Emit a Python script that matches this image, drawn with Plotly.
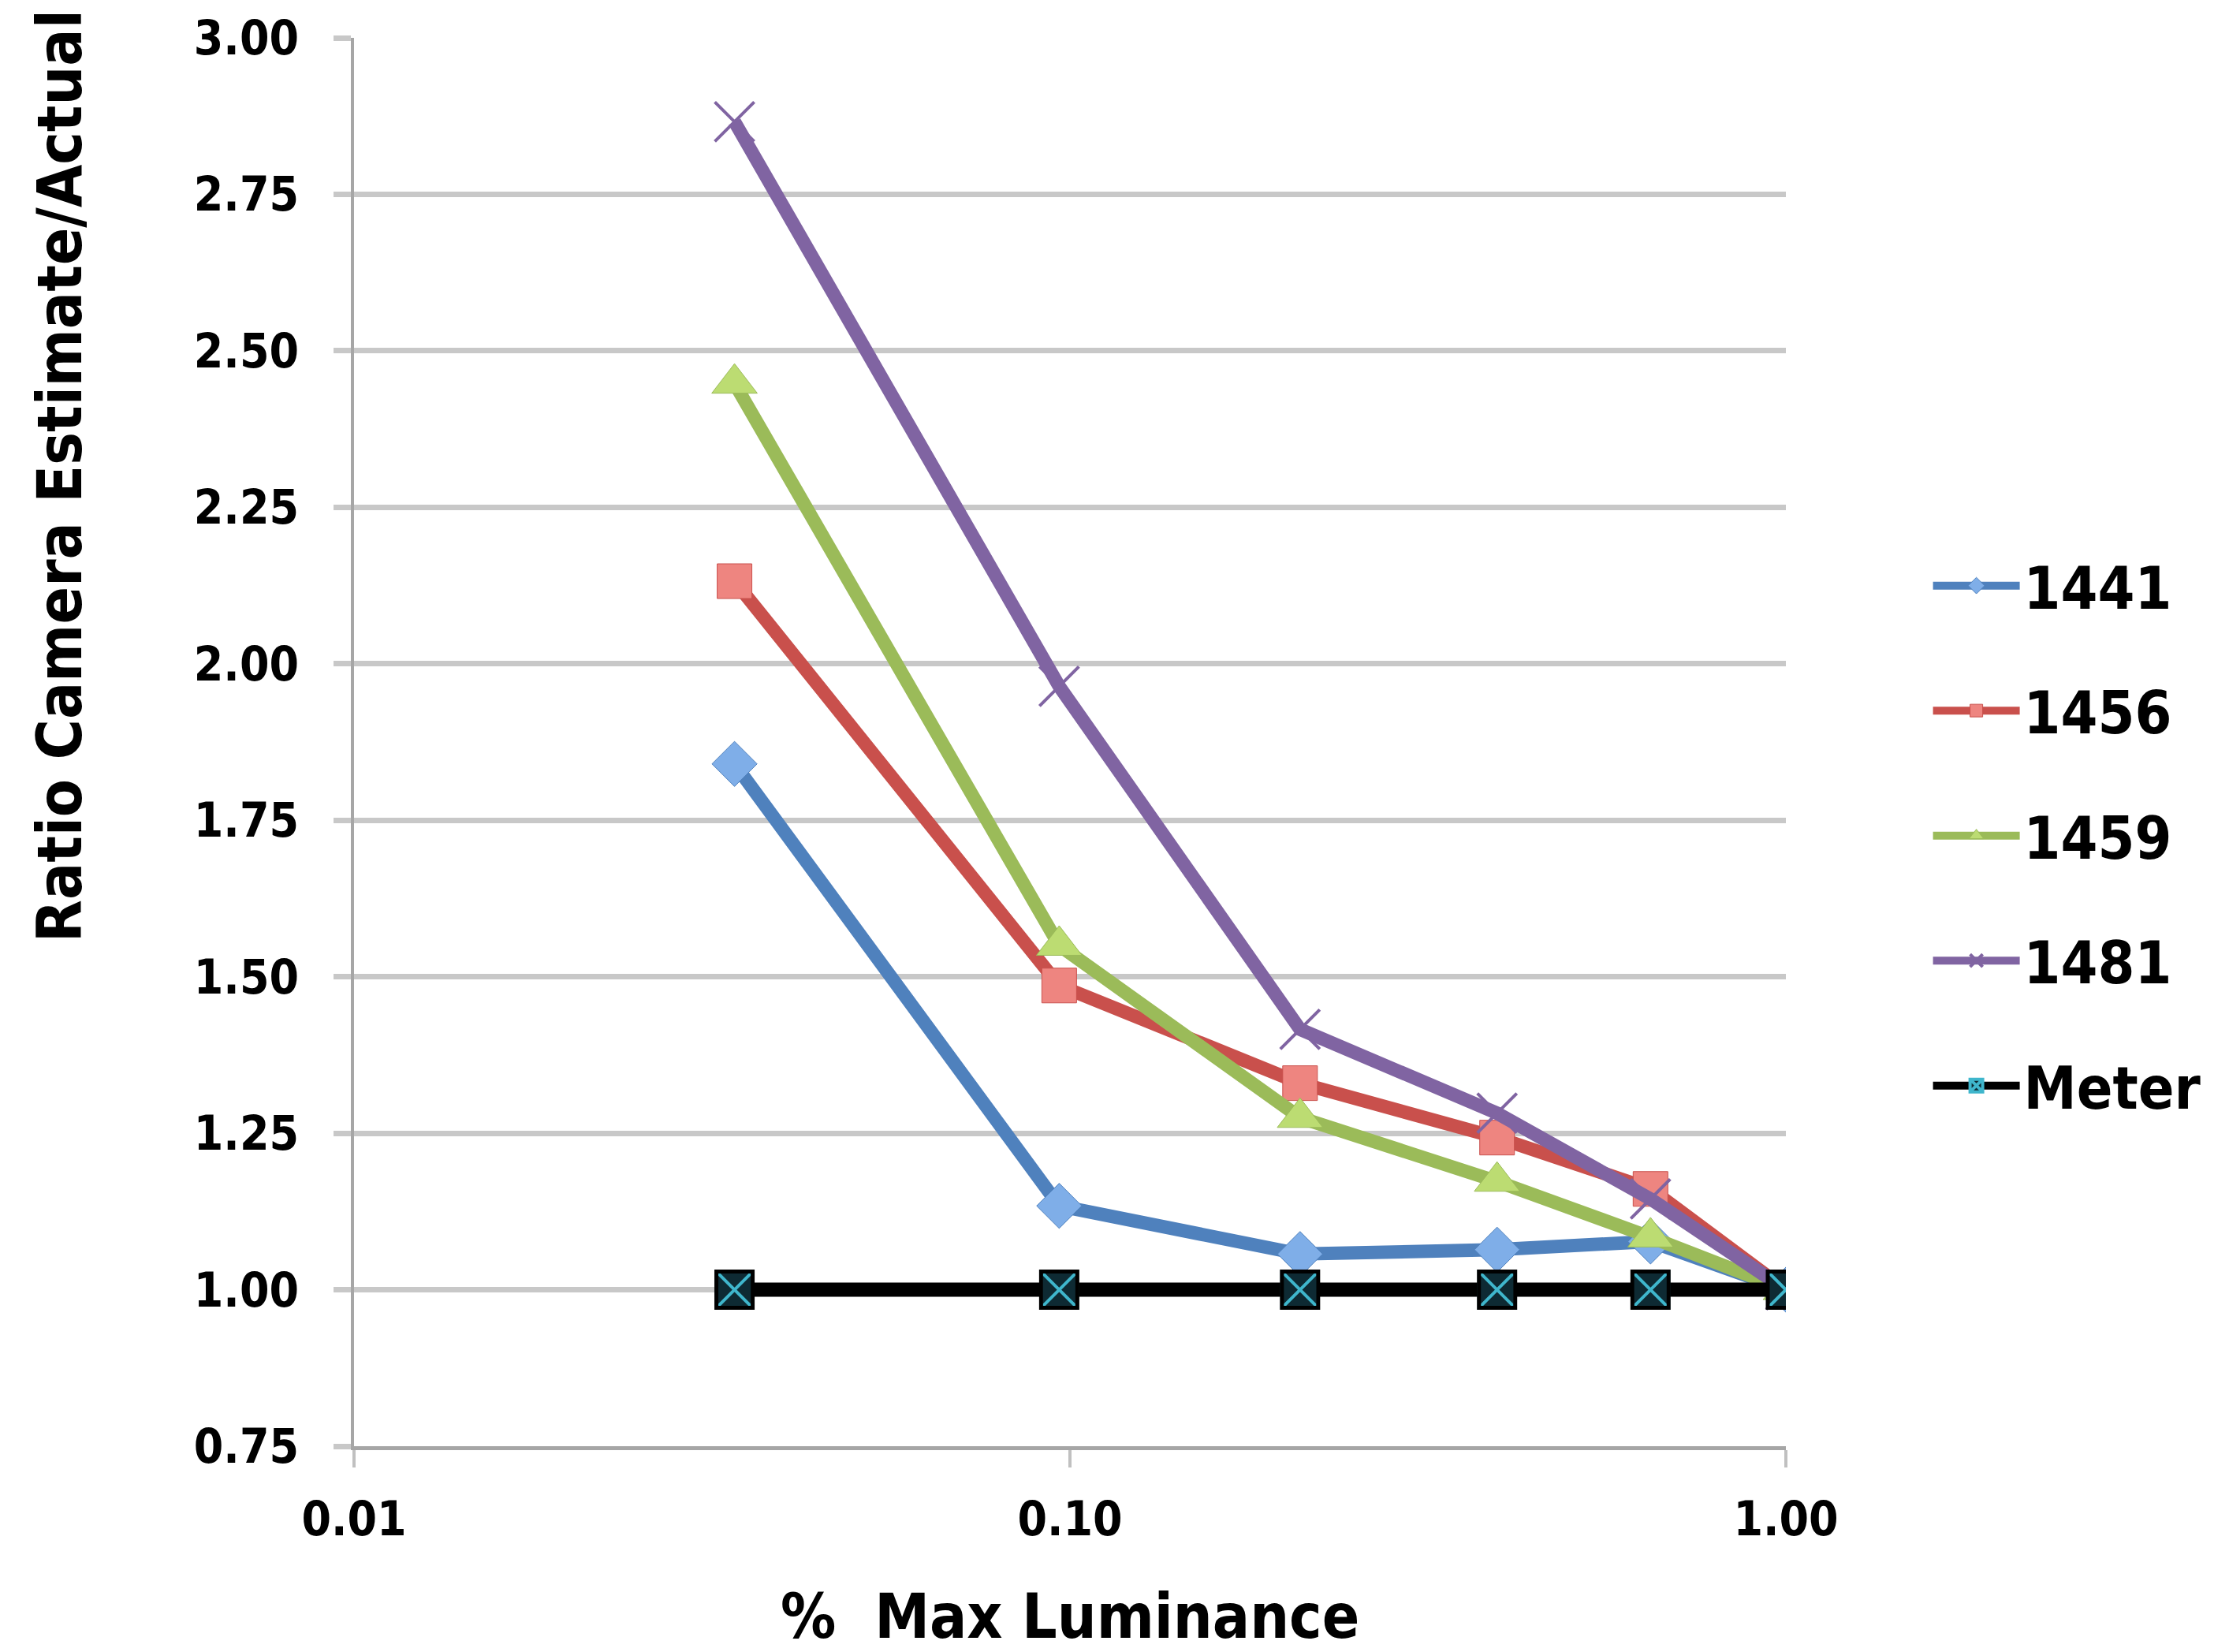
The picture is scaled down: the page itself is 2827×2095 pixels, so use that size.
import plotly.graph_objects as go

# ---- data ----
luminance = [0.034, 0.0966, 0.2096, 0.395, 0.647, 1.0]
series_names = ["1441", "1456", "1459", "1481", "Meter"]
s1441 = [1.84, 1.134, 1.057, 1.064, 1.077, 1.00]
s1456 = [2.132, 1.486, 1.330, 1.243, 1.161, 1.00]
s1459 = [2.448, 1.550, 1.275, 1.173, 1.084, 1.00]
s1481 = [2.866, 1.964, 1.416, 1.282, 1.145, 1.00]
meter = [1.00, 1.00, 1.00, 1.00, 1.00, 1.00]
y_ticks = [0.75, 1.00, 1.25, 1.50, 1.75, 2.00, 2.25, 2.50, 2.75, 3.00]
x_ticks = [0.01, 0.1, 1.0]
x_tick_text = ["0.01", "0.10", "1.00"]

FONT = "DejaVu Sans Condensed, DejaVu Sans, Liberation Sans, sans-serif"

styles = [
    dict(line="#4F81BD", fill="#7FAEE8", symbol="diamond", size=44),
    dict(line="#C9504C", fill="#EE8580", symbol="square", size=44),
    dict(line="#9BBB59", fill="#BCDC72", symbol="triangle-up", size=50),
    dict(line="#8064A2", fill="#8064A2", symbol="x-thin-open", size=50),
]

fig = go.Figure()
for name, vals, st in zip(series_names[:4], [s1441, s1456, s1459, s1481], styles):
    fig.add_trace(go.Scatter(
        x=luminance, y=vals, name=name, mode="lines+markers",
        legendgroup=name,
        line=dict(color=st["line"], width=17),
        marker=dict(symbol=st["symbol"], size=st["size"], color=st["fill"],
                    line=dict(color=st["line"], width=4 if st["symbol"] == "x-thin-open" else 1)),
    ))

fig.add_trace(go.Scatter(
    x=luminance, y=meter, name=series_names[4], mode="lines+markers",
    legendgroup="Meter",
    line=dict(color="#000000", width=18),
    marker=dict(symbol="square-x", size=46, color="#0E2A33",
                line=dict(color="#3FB6CC", width=4)),
))
fig.add_trace(go.Scatter(
    x=luminance, y=meter, name="Meter outline", mode="markers",
    legendgroup="Meter", showlegend=False, hoverinfo="skip",
    marker=dict(symbol="square-open", size=46, color="#000000",
                line=dict(color="#000000", width=5)),
))

fig.update_layout(
    width=2827, height=2095,
    paper_bgcolor="white", plot_bgcolor="white",
    margin=dict(l=441, r=570, t=40, b=269, autoexpand=False),
    font=dict(family=FONT, color="black", size=60, weight="bold"),
    showlegend=True,
    legend=dict(x=1.1, xanchor="left", y=0.642, yanchor="top",
                font=dict(family=FONT, size=75, weight="bold"),
                tracegroupgap=58, itemwidth=110, bgcolor="rgba(0,0,0,0)"),
    annotations=[
        dict(text="Ratio Camera Estimate/Actual", xref="paper", yref="paper",
             x=-0.205, y=0.689, xanchor="center", yanchor="middle",
             textangle=-90, showarrow=False,
             font=dict(family=FONT, size=78, weight="bold")),
        dict(text="%  Max Luminance", xref="paper", yref="paper",
             x=0.5, y=-0.121, xanchor="center", yanchor="middle", showarrow=False,
             font=dict(family=FONT, size=78, weight="bold")),
    ],
)

fig.update_xaxes(
    type="log", range=[-2, 0], tickvals=x_ticks, ticktext=x_tick_text,
    showgrid=False, zeroline=False,
    showline=True, linecolor="#A6A6A6", linewidth=5,
    ticks="outside", ticklen=22, tickwidth=4, tickcolor="#C0C0C0",
    ticklabelstandoff=14, tickfont=dict(size=60),
)
fig.update_yaxes(
    range=[0.75, 3.0], tickvals=y_ticks, tickformat=".2f",
    showgrid=True, gridcolor="#C8C8C8", gridwidth=7, zeroline=False,
    showline=True, linecolor="#A6A6A6", linewidth=4,
    ticks="outside", ticklen=22, tickwidth=7, tickcolor="#C8C8C8",
    ticklabelstandoff=32, tickfont=dict(size=60),
)

fig.write_html("out.html")
